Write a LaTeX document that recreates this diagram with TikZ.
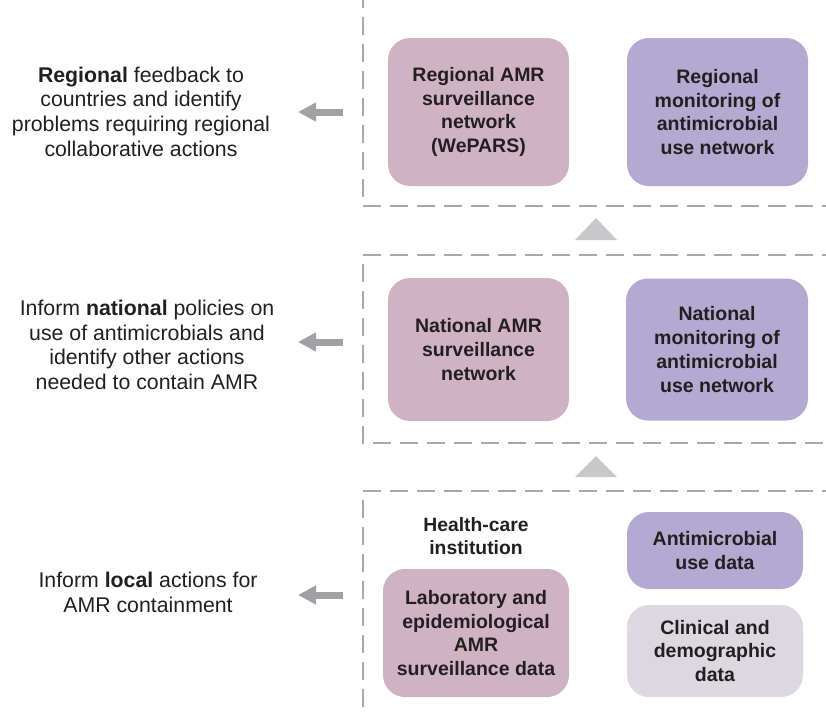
\documentclass[tikz,border=0pt]{standalone}
\usepackage{fontspec}
\setmainfont{Liberation Sans}
\usetikzlibrary{arrows.meta}
\definecolor{pinkbox}{RGB}{208,179,195}
\definecolor{purplebox}{RGB}{179,169,209}
\definecolor{greybox}{RGB}{221,216,223}
\definecolor{dashgrey}{RGB}{168,168,170}
\definecolor{arrowgrey}{RGB}{160,160,165}
\definecolor{trigrey}{RGB}{200,200,202}
\definecolor{txt}{RGB}{35,31,32}
\begin{document}
\begin{tikzpicture}[x=1pt,y=-1pt,
  box/.style={rounded corners=22pt, inner sep=0pt, align=center, text=txt,
    font=\fontsize{19.5}{23.7}\selectfont\bfseries},
  side/.style={align=center, text=txt, inner sep=0pt,
    font=\fontsize{21.3}{24.7}\selectfont},
  hdr/.style={align=center, text=txt, inner sep=0pt,
    font=\fontsize{19.3}{23.5}\selectfont\bfseries},
  frame/.style={draw=dashgrey, line width=2pt, dash pattern=on 18pt off 9pt},
  fb/.style={draw=arrowgrey, line width=7pt, -{Triangle[width=18pt,length=18pt]}},
  upmark/.style={fill=trigrey, draw=none}]
\useasboundingbox (0,0) rectangle (826,713);
\begin{scope}
\clip (0,0) rectangle (826,713);
% dashed frames
\draw[frame] (840,206) -- (363,206) -- (363,-10);
\draw[frame] (840,255) -- (363,255) -- (363,443) -- (840,443);
\draw[frame] (840,491) -- (363,491) -- (363,720);
\end{scope}

% level indicators (triangles)
\coordinate (t1) at (596,218);
\fill[upmark] (t1) -- (617,240) -- (575,240) -- cycle;
\coordinate (t2) at (596,456);
\fill[upmark] (t2) -- (617,477) -- (575,477) -- cycle;

% regional level
\node[box, fill=pinkbox, minimum width=181pt, minimum height=148pt] (ramr) at (478.5,112)
  {Regional AMR\\surveillance\\network\\(WePARS)};
\node[box, fill=purplebox, minimum width=181pt, minimum height=148pt] (rmon) at (717.5,112)
  {Regional\\monitoring of\\antimicrobial\\use network};

% national level
\node[box, fill=pinkbox, minimum width=181pt, minimum height=143pt] (namr) at (478.5,349.5)
  {National AMR\\surveillance\\network};
\node[box, fill=purplebox, minimum width=182pt, minimum height=142pt] (nmon) at (717,349.5)
  {National\\monitoring of\\antimicrobial\\use network};

% local level
\node[hdr] (hci) at (476,536) {Health-care\\institution};
\node[box, fill=pinkbox, minimum width=186pt, minimum height=128pt] (lab) at (476,633)
  {Laboratory and\\epidemiological\\AMR\\surveillance data};
\node[box, fill=purplebox, minimum width=176pt, minimum height=77pt] (amu) at (715,550.5)
  {Antimicrobial\\use data};
\node[box, fill=greybox, minimum width=176pt, minimum height=92pt] (clin) at (715,651)
  {Clinical and\\demographic\\data};

% side texts
\node[side] (sreg) at (141,111.5)
  {\textbf{Regional} feedback to\\countries and identify\\problems requiring regional\\collaborative actions};
\node[side] (snat) at (147,345)
  {Inform \textbf{national} policies on\\use of antimicrobials and\\identify other actions\\needed to contain AMR};
\node[side] (sloc) at (148,592.5)
  {Inform \textbf{local} actions for\\AMR containment};

% feedback arrows
\coordinate (a1s) at (343,112); \coordinate (a1e) at (298,112);
\coordinate (a2s) at (343,342); \coordinate (a2e) at (298,342);
\coordinate (a3s) at (343,595); \coordinate (a3e) at (298,595);
\draw[fb] (a1s) -- (a1e);
\draw[fb] (a2s) -- (a2e);
\draw[fb] (a3s) -- (a3e);
\end{tikzpicture}
\end{document}
